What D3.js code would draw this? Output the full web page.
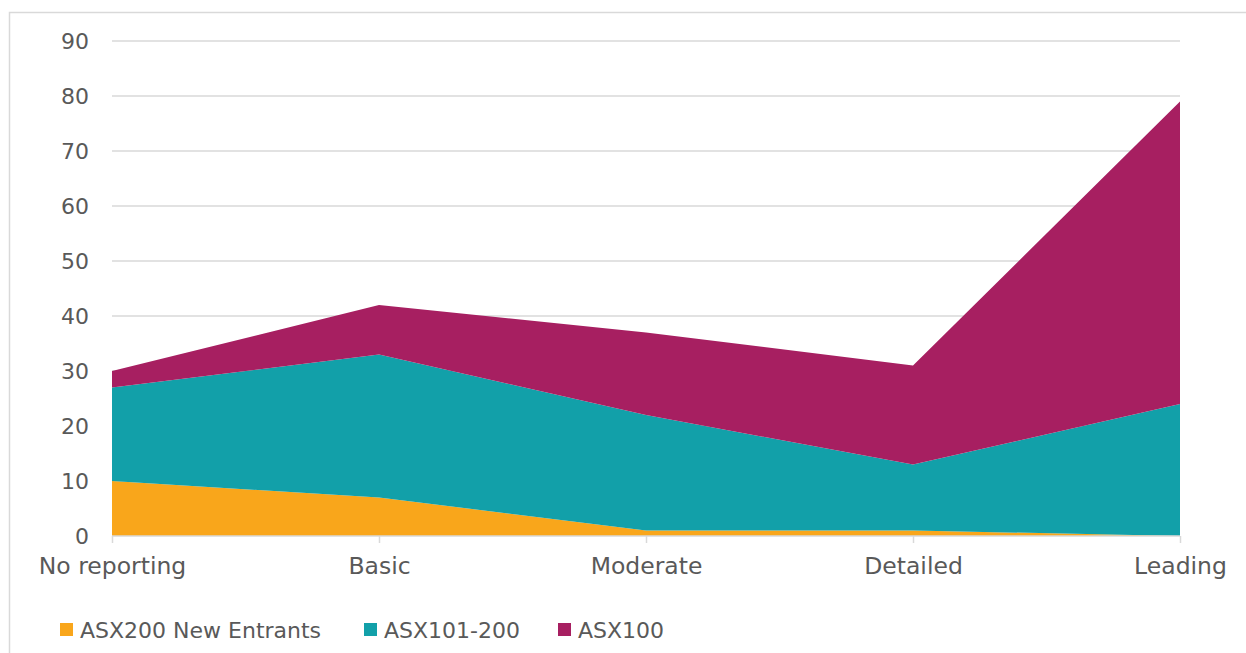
<!DOCTYPE html>
<html><head><meta charset="utf-8">
<script src="https://cdn.jsdelivr.net/npm/d3@7"></script>
<style>
html,body{margin:0;padding:0;background:#fff;}
svg{display:block;}
svg text{font-family:"DejaVu Sans",sans-serif;}
</style></head>
<body><svg id="c" width="1246" height="653"></svg>
<script>
const categories = ["No reporting","Basic","Moderate","Detailed","Leading"];
const seriesNames = ["ASX200 New Entrants","ASX101-200","ASX100"];
const newEntrants = [10,7,1,1,0];
const asx101_200 = [17,26,21,12,24];
const asx100 = [3,9,15,18,55];
const yTicks = [0,10,20,30,40,50,60,70,80,90];
const colors = ["#F9A61B","#12A0A9","#A71F61"];

const svg = d3.select("#c");
const W=1246,H=653;
const m={left:112,right:66,top:41,bottom:117};
const x = d3.scalePoint().domain(categories).range([m.left,W-m.right]);
const y = d3.scaleLinear().domain([0,90]).range([H-m.bottom,m.top]);
const FS = "22px";
const FSX = "23.5px";
const FF = "'DejaVu Sans', sans-serif";

// outer border
svg.append("rect").attr("x",9.5).attr("y",12.5).attr("width",W+20).attr("height",H+20)
  .attr("fill","none").attr("stroke","#D9D9D9").attr("stroke-width",1.5);

// gridlines
svg.append("g").selectAll("line").data(yTicks.filter(d=>d>0)).join("line")
  .attr("x1",m.left).attr("x2",W-m.right).attr("y1",d=>y(d)).attr("y2",d=>y(d))
  .attr("stroke","#D9D9D9").attr("stroke-width",1.5);

const table = categories.map((c,i)=>({cat:c,"ASX200 New Entrants":newEntrants[i],"ASX101-200":asx101_200[i],"ASX100":asx100[i]}));
const stack = d3.stack().keys(seriesNames)(table);
const area = d3.area().x(d=>x(d.data.cat)).y0(d=>y(d[0])).y1(d=>y(d[1]));
svg.append("g").selectAll("path").data(stack).join("path")
  .attr("d",area).attr("fill",(d,i)=>colors[i]);

// y axis labels
const yAx = d3.axisLeft(y).tickValues(yTicks).tickSize(0).tickPadding(23);
const gy = svg.append("g").attr("transform",`translate(${m.left},0)`).call(yAx);
gy.attr("font-family",FF).attr("font-size",FS);
gy.select(".domain").remove();
gy.selectAll("text").attr("fill","#595959").style("font-size",FS).style("font-family",FF);

// x axis
const xAx = d3.axisBottom(x).tickSize(7).tickPadding(14);
const gx = svg.append("g").attr("transform",`translate(0,${y(0)})`).call(xAx);
gx.attr("font-family",FF).attr("font-size",FSX);
gx.select(".domain").attr("stroke","#D9D9D9").attr("stroke-width",1.5).attr("d",`M${m.left},0H${W-m.right}`);
gx.selectAll(".tick line").attr("stroke","#D9D9D9").attr("stroke-width",1.5);
gx.selectAll("text").attr("fill","#595959").style("font-size",FSX).style("font-family",FF);

// legend
const legX=[60,364,558];
const lg = svg.append("g").selectAll("g").data(seriesNames).join("g")
  .attr("transform",(d,i)=>`translate(${legX[i]},623)`);
lg.append("rect").attr("width",13).attr("height",13).attr("fill",(d,i)=>colors[i]);
lg.append("text").attr("x",20).attr("y",7).attr("dy","0.35em").text(d=>d)
  .attr("fill","#595959").style("font-size",FS).style("font-family",FF);
</script></body></html>
